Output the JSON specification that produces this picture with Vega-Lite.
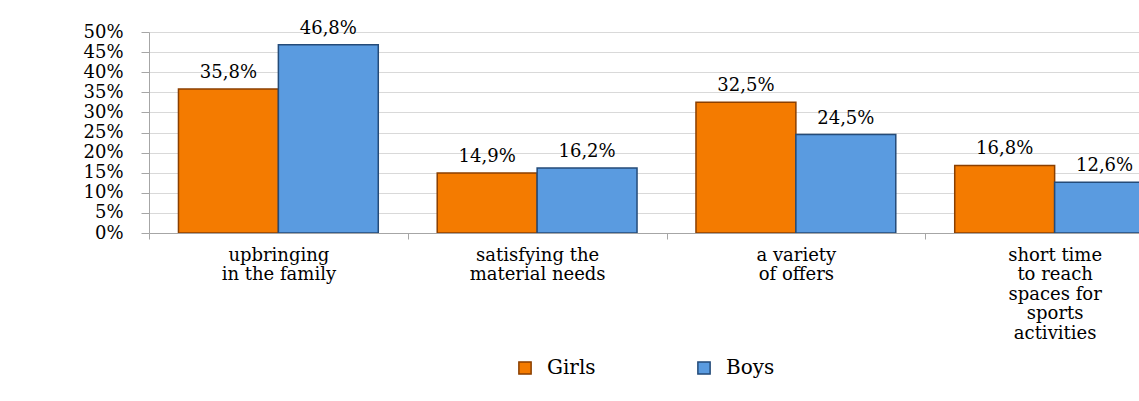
{
  "$schema": "https://vega.github.io/schema/vega-lite/v6.json",
  "width": 990,
  "height": 201,
  "autosize": {"type": "none"},
  "padding": {"left": 149, "top": 32, "right": 0, "bottom": 168},
  "background": "white",
  "config": {
    "locale": {"number": {"decimal": ",", "thousands": ".", "grouping": [3], "currency": ["", " €"]}},
    "view": {"stroke": null},
    "font": "DejaVu Serif"
  },
  "data": {
    "values": [
      {"category": "upbringing in the family", "gender": "Girls", "value": 0.358},
      {"category": "upbringing in the family", "gender": "Boys", "value": 0.468},
      {"category": "satisfying the material needs", "gender": "Girls", "value": 0.149},
      {"category": "satisfying the material needs", "gender": "Boys", "value": 0.162},
      {"category": "a variety of offers", "gender": "Girls", "value": 0.325},
      {"category": "a variety of offers", "gender": "Boys", "value": 0.245},
      {"category": "short time to reach spaces for sports activities", "gender": "Girls", "value": 0.168},
      {"category": "short time to reach spaces for sports activities", "gender": "Boys", "value": 0.126}
    ]
  },
  "encoding": {
    "x": {
      "field": "category",
      "type": "nominal",
      "sort": null,
      "scale": {"range": [0, 1035], "paddingInner": 0, "paddingOuter": 0},
      "axis": {
        "title": null,
        "labelAngle": 0,
        "labelFont": "DejaVu Serif",
        "labelFontSize": 18,
        "labelColor": "black",
        "labelLineHeight": 19.5,
        "labelPadding": 7,
        "labelBaseline": "top",
        "domainColor": "#A6A6A6",
        "tickColor": "#A6A6A6",
        "tickSize": 6,
        "tickBand": "extent",
        "grid": false,
        "labelExpr": "datum.value == 'upbringing in the family' ? ['upbringing', 'in the family'] : datum.value == 'satisfying the material needs' ? ['satisfying the', 'material needs'] : datum.value == 'a variety of offers' ? ['a variety', 'of offers'] : datum.value == 'short time to reach spaces for sports activities' ? ['short time', 'to reach', 'spaces for', 'sports', 'activities'] : ''"
      }
    },
    "xOffset": {"field": "gender", "type": "nominal", "sort": ["Girls", "Boys"], "scale": {"paddingInner": 0, "paddingOuter": 0.295}},
    "y": {
      "field": "value",
      "type": "quantitative",
      "scale": {"domain": [0, 0.5], "nice": false},
      "axis": {
        "title": null,
        "format": ".0%",
        "values": [0, 0.05, 0.1, 0.15, 0.2, 0.25, 0.3, 0.35, 0.4, 0.45, 0.5],
        "labelFont": "DejaVu Serif",
        "labelFontSize": 18,
        "labelColor": "black",
        "labelPadding": 18,
        "tickSize": 8,
        "tickColor": "#A6A6A6",
        "domainColor": "#A6A6A6",
        "grid": true,
        "gridColor": "#D9D9D9"
      }
    }
  },
  "layer": [
    {
      "mark": {"type": "bar", "clip": true, "strokeWidth": 1.5},
      "encoding": {
        "color": {
          "field": "gender",
          "type": "nominal",
          "sort": ["Girls", "Boys"],
          "scale": {"domain": ["Girls", "Boys"], "range": ["#F47B00", "#5A9BE0"]},
          "legend": {
            "title": null,
            "orient": "none",
            "legendX": 366,
            "legendY": 326,
            "direction": "horizontal",
            "symbolType": "square",
            "symbolSize": 150,
            "labelFont": "DejaVu Serif",
            "labelFontSize": 20,
            "labelColor": "black",
            "labelOffset": 12,
            "columnPadding": 98
          }
        },
        "stroke": {
          "field": "gender",
          "type": "nominal",
          "scale": {"domain": ["Girls", "Boys"], "range": ["#8A3F00", "#244B78"]},
          "legend": null
        }
      }
    },
    {
      "mark": {"type": "text", "dy": -16, "fontSize": 18, "font": "DejaVu Serif", "color": "black"},
      "encoding": {
        "text": {"field": "value", "type": "quantitative", "format": ".1%"}
      }
    }
  ]
}
